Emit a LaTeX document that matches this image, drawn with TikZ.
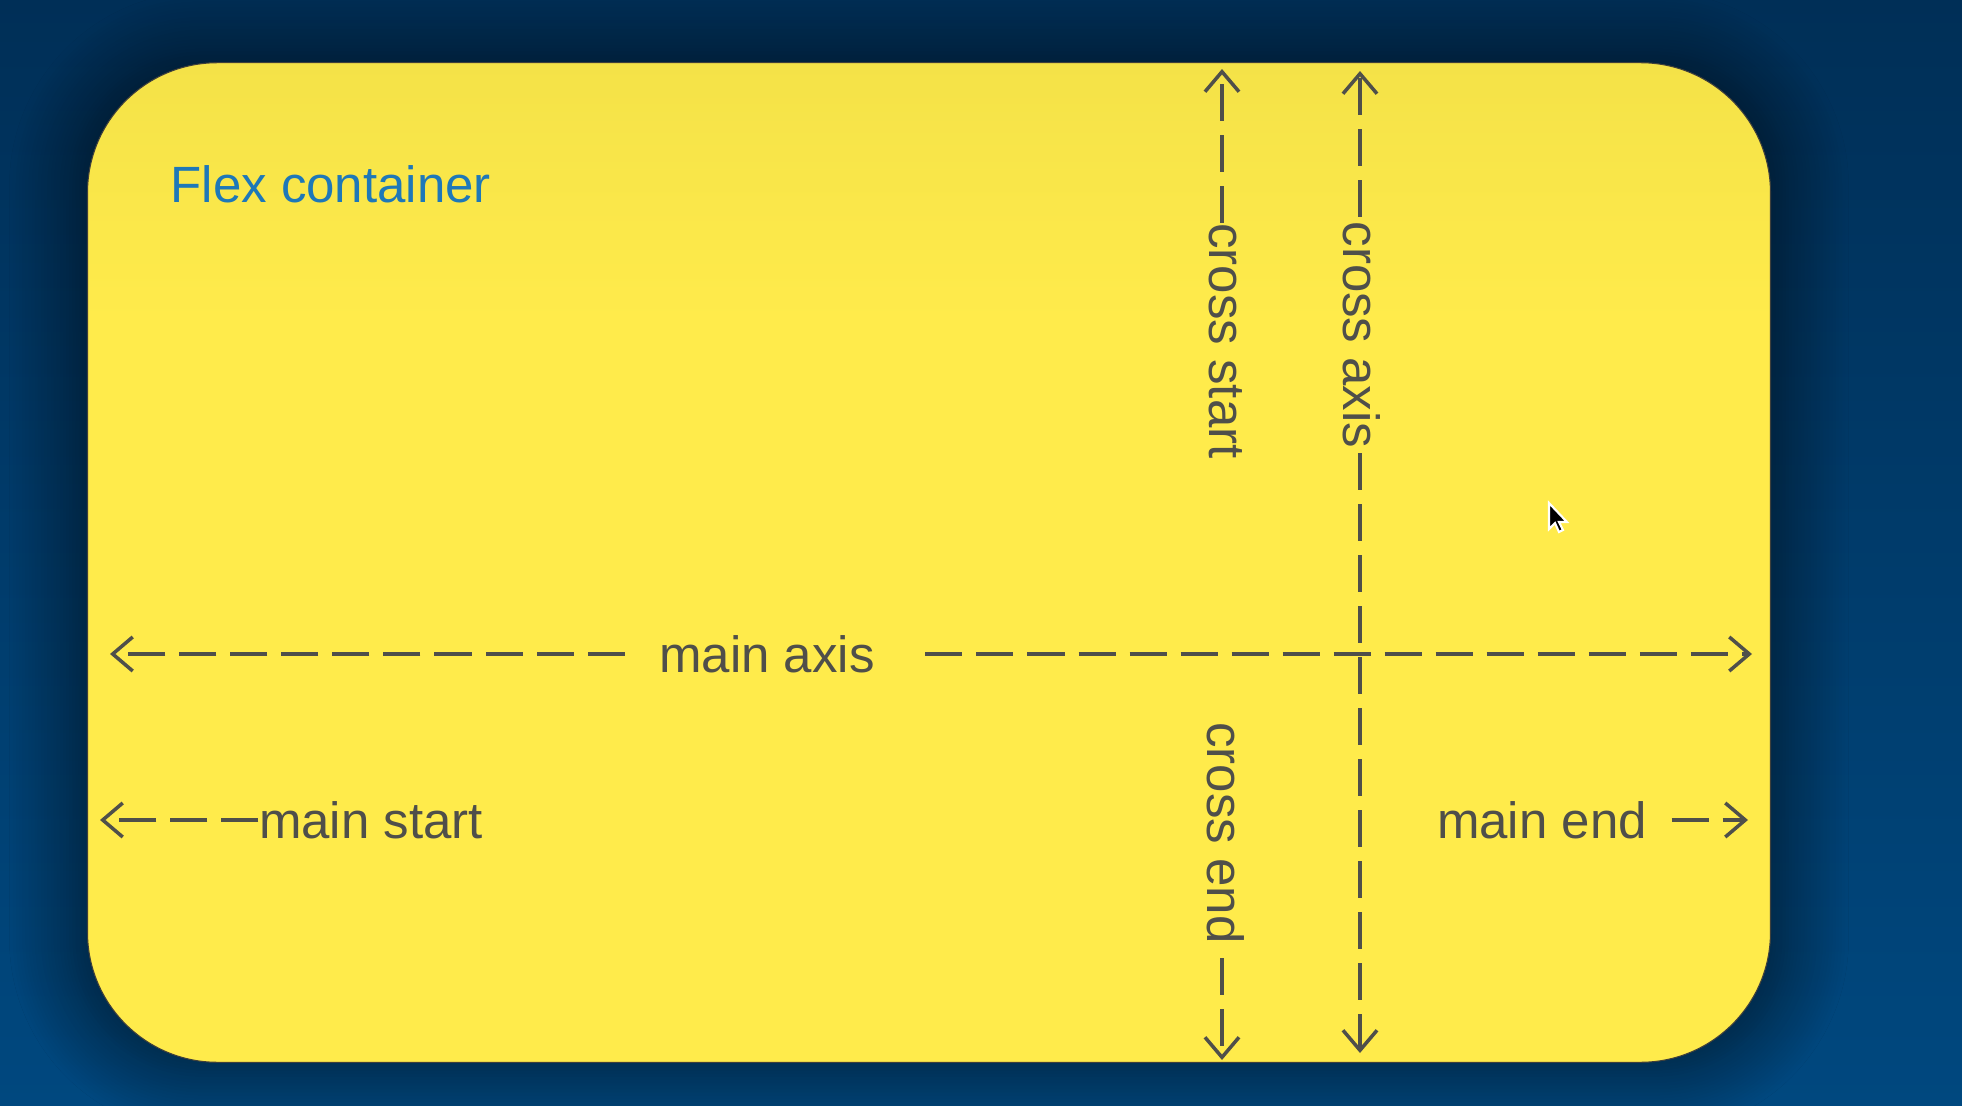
\documentclass[tikz,border=0pt]{standalone}
\usepackage{fontspec}
\setmainfont{Liberation Sans}
\usepackage{tikz}
\usetikzlibrary{positioning}
\usetikzlibrary{calc}
\usetikzlibrary{arrows.meta}
\usetikzlibrary{shadows.blur}

\definecolor{bgtop}{HTML}{002F57}
\definecolor{bgbot}{HTML}{00487F}
\definecolor{ytop}{HTML}{DFD142}
\definecolor{ybot}{HTML}{FFEB4B}
\definecolor{textgray}{HTML}{4F4F4A}
\definecolor{flexblue}{HTML}{1E78B8}

\pgfdeclareverticalshading{boxfill}{100bp}{color(0bp)=(ybot); color(62bp)=(ybot); color(100bp)=(ytop)}

\begin{document}
\begin{tikzpicture}[x=0.01cm, y=-0.01cm,
	lbl/.style = {font=\fontsize{14.5}{17}\selectfont, text=textgray, inner sep=0.04cm},
	axisline/.style = {draw=textgray, line width=1pt, dash pattern=on 0.37cm off 0.14cm},
	barb/.style = {-{Straight Barb[length=0.2cm, width=0.34cm]}}]

\shade[top color=bgtop, bottom color=bgbot] (0,0) rectangle (1962,1106);
\useasboundingbox (0,0) rectangle (1962,1106);

\node (box) [draw=textgray!80!black, line width=0.3pt, rounded corners=1.3cm,
	shading=boxfill,
	minimum width=16.82cm, minimum height=9.99cm,
	blur shadow={shadow xshift=0pt, shadow yshift=0pt, shadow blur radius=0.6cm,
		shadow opacity=55, shadow blur steps=20, shadow scale=1.02}]
	at (929,562.5) {};

\node (title) [lbl, text=flexblue, anchor=west] at (166,184) {Flex container};

% main axis
\coordinate (maL) at (110,654);
\coordinate (maR) at (1752,654);
\node (mainaxis) [lbl] at (767,654) {main axis};
\draw[axisline, barb] ([xshift=-0.3cm]mainaxis.west) -- (maL);
\draw[axisline, barb] ([xshift=0.46cm]mainaxis.east) -- (maR);

% cross axis
\coordinate (caTop) at (1360,71);
\coordinate (caBot) at (1360,1053);
\node (crossaxis) [lbl, rotate=-90] at (1362,335) {cross axis};
\draw[axisline, barb] (crossaxis.west -| caTop) -- (caTop);
\draw[axisline, barb] (crossaxis.east -| caBot) -- (caBot);

% cross start / cross end
\coordinate (csTop) at (1222,69);
\node (crossstart) [lbl, rotate=-90, inner sep=0pt] at (1226,341) {cross start};
\draw[axisline, barb] (crossstart.west -| csTop) -- (csTop);

\node (crossend) [lbl, rotate=-90] at ($(crossstart)+(0,492)$) {cross end};
\coordinate (ceBot) at (1222,1060);
\draw[axisline, barb] ([yshift=-0.1cm]crossend.east -| ceBot) -- (ceBot);

% main start / main end
\coordinate (msL) at (100,820);
\node (mainstart) [lbl, inner sep=0pt] at (371,820) {main start};
\draw[axisline, barb] (mainstart.west) -- (msL);

\node (mainend) [lbl] at ($(mainstart)+(1171,0)$) {main end};
\coordinate (meR) at (1748,820);
\draw[axisline, barb] ([xshift=0.2cm]mainend.east) -- (meR);

%\node (pointer) at (1552,515) {};
\filldraw[fill=black, draw=white, line width=0.6pt]
	(1549,503) -- ++(0,26) -- ++(6,-6) -- ++(4,9) -- ++(4,-2) -- ++(-4,-8) -- ++(8,0) -- cycle;
\end{tikzpicture}
\end{document}
